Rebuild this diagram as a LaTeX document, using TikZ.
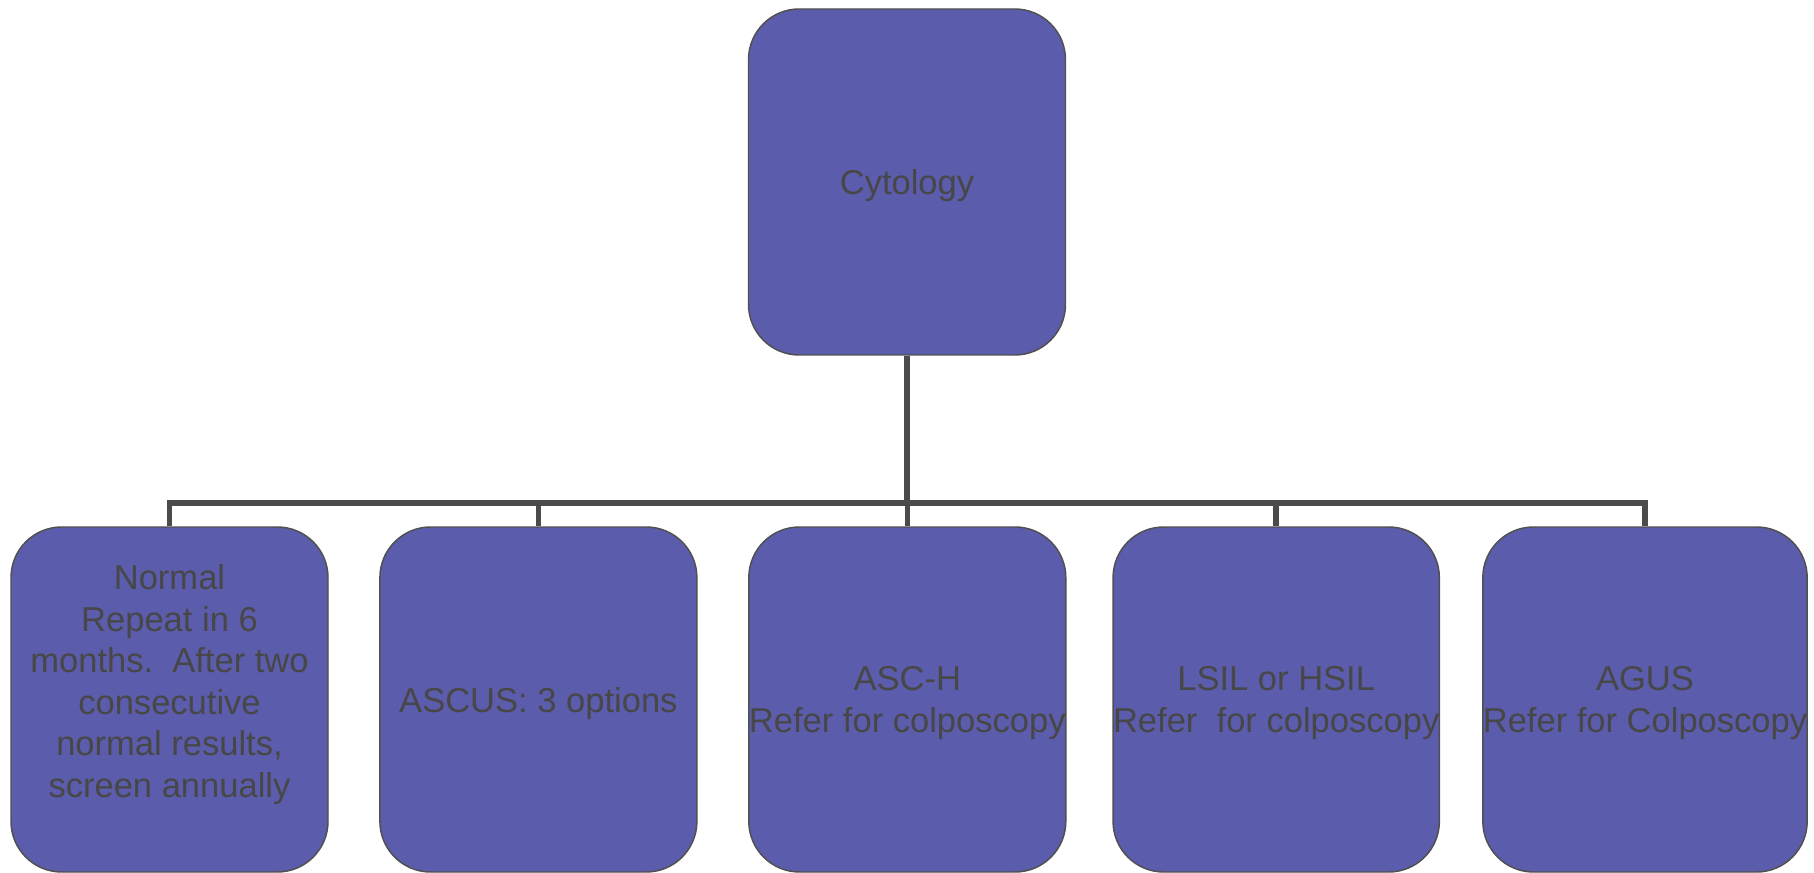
\documentclass[tikz,border=0pt]{standalone}
\usepackage{fontspec}
\setmainfont{Liberation Sans}
\definecolor{boxfill}{HTML}{5B5CAB}
\definecolor{boxline}{HTML}{505050}
\definecolor{txtgray}{HTML}{474747}
\definecolor{conngray}{HTML}{4B4B4B}
\begin{document}
\begin{tikzpicture}[x=0.75pt,y=-0.75pt,
  box/.style={draw=boxline, line width=1.1pt, fill=boxfill, rounded corners=38pt,
    minimum width=237.75pt, minimum height=258.75pt, inner sep=0pt},
  boxtext/.style={text=txtgray, align=center, inner sep=0pt, text depth=0pt,
    font=\fontsize{25.9pt}{31.1pt}\selectfont},
  conn/.style={draw=conngray, line width=4.1pt}]
\useasboundingbox (0,0) rectangle (1814,873);
% boxes
\node[box, boxtext, minimum height=259.5pt] (cyt) at (907,182) {Cytology};
\node[box] (n1) at (169.5,699.5) {};
\node[boxtext] (n1t) at (169.5,681) {Normal\\Repeat in 6\\months.\ \ After two\\consecutive\\normal results,\\screen annually};
\node[box, boxtext] (n2) at (538.4,699.5) {ASCUS: 3 options};
\node[box, boxtext] (n3) at (907.3,699.5) {ASC-H\\Refer for colposcopy};
\node[box, boxtext] (n4) at (1276.2,699.5) {LSIL or HSIL\\Refer\ \ for colposcopy};
\node[box, boxtext] (n5) at (1645,699.5) {AGUS\\Refer for Colposcopy};
% connectors
\coordinate (bus) at (907,503);
\draw[conn] (cyt.south) -- (bus) -| (n1.north);
\draw[conn] (cyt.south) -- (bus) -| (n2.north);
\draw[conn] (cyt.south) -- (bus) -| (n3.north);
\draw[conn] (cyt.south) -- (bus) -| (n4.north);
\draw[conn] (cyt.south) -- (bus) -| (n5.north);
\end{tikzpicture}
\end{document}
